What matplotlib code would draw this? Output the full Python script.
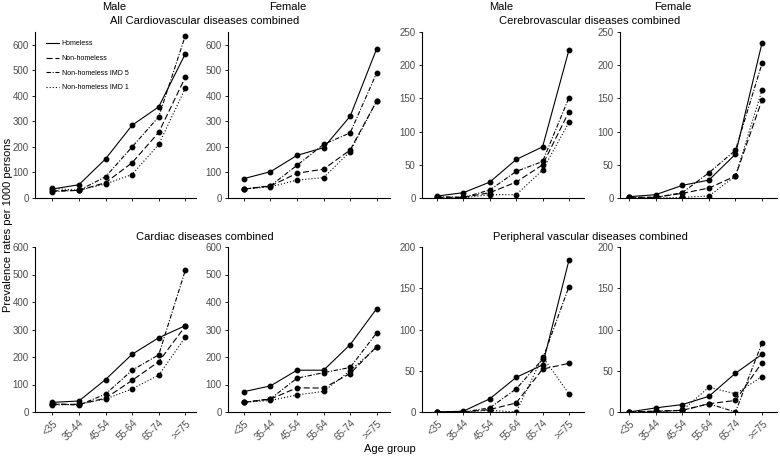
import matplotlib
matplotlib.use("Agg")
import matplotlib.pyplot as plt

plt.rcParams["font.family"] = ["Liberation Sans", "DejaVu Sans"]

ages = ["<35", "35-44", "45-54", "55-64", "65-74", ">=75"]
groups = ["Homeless", "Non-homeless", "Non-homeless IMD 5", "Non-homeless IMD 1"]

# All cardiovascular diseases combined
allcvd_male = {
    "Homeless": [35, 52, 153, 285, 357, 565],
    "Non-homeless": [28, 30, 60, 138, 257, 473],
    "Non-homeless IMD 5": [25, 30, 83, 200, 318, 636],
    "Non-homeless IMD 1": [38, 30, 55, 92, 210, 430],
}
allcvd_female = {
    "Homeless": [76, 103, 167, 197, 320, 585],
    "Non-homeless": [35, 47, 97, 113, 188, 380],
    "Non-homeless IMD 5": [35, 48, 128, 210, 255, 490],
    "Non-homeless IMD 1": [35, 44, 70, 80, 182, 380],
}
# Cerebrovascular diseases combined
cereb_male = {
    "Homeless": [3, 8, 24, 58, 77, 223],
    "Non-homeless": [1, 1, 8, 24, 50, 130],
    "Non-homeless IMD 5": [2, 1, 12, 40, 55, 151],
    "Non-homeless IMD 1": [0, 0, 5, 5, 42, 114],
}
cereb_female = {
    "Homeless": [2, 5, 19, 27, 66, 234],
    "Non-homeless": [1, 1, 7, 15, 33, 148],
    "Non-homeless IMD 5": [1, 1, 8, 38, 72, 203],
    "Non-homeless IMD 1": [0, 0, 1, 3, 33, 163],
}
# Cardiac diseases combined
cardiac_male = {
    "Homeless": [35, 40, 118, 210, 270, 314],
    "Non-homeless": [28, 28, 50, 115, 183, 312],
    "Non-homeless IMD 5": [30, 25, 65, 152, 208, 516],
    "Non-homeless IMD 1": [25, 28, 47, 84, 134, 272],
}
cardiac_female = {
    "Homeless": [74, 95, 152, 152, 245, 376],
    "Non-homeless": [35, 47, 88, 87, 140, 238],
    "Non-homeless IMD 5": [35, 48, 123, 143, 162, 288],
    "Non-homeless IMD 1": [35, 42, 62, 75, 150, 236],
}
# Peripheral vascular diseases combined
periph_male = {
    "Homeless": [0, 1, 16, 42, 57, 184],
    "Non-homeless": [0, 0, 3, 11, 52, 59],
    "Non-homeless IMD 5": [0, 0, 5, 28, 64, 152],
    "Non-homeless IMD 1": [0, 0, 2, 0, 67, 22],
}
periph_female = {
    "Homeless": [0, 5, 9, 19, 47, 70],
    "Non-homeless": [0, 1, 2, 10, 14, 60],
    "Non-homeless IMD 5": [0, 1, 2, 10, 0, 84],
    "Non-homeless IMD 1": [0, 0, 2, 30, 22, 43],
}

styles = {
    "Homeless": "-",
    "Non-homeless": (0, (5.5, 2.5)),
    "Non-homeless IMD 5": (0, (4, 1.5, 1, 1.5)),
    "Non-homeless IMD 1": (0, (1, 1.8)),
}

W, H = 780, 457
fig = plt.figure(figsize=(W / 100, H / 100), dpi=100)

# pixel boxes: (left, right, xlim) per column, (top, bottom) per row
cols = [(35, 196, (-0.65, 5.4)), (228, 390, (-0.6, 5.5)),
        (422, 584, (-0.57, 5.57)), (620, 777, (-0.34, 5.56))]
rows = [(32, 198), (247, 412)]

panels = [
    (0, 0, allcvd_male, 650, [0, 100, 200, 300, 400, 500, 600]),
    (0, 1, allcvd_female, 650, [0, 100, 200, 300, 400, 500, 600]),
    (0, 2, cereb_male, 250, [0, 50, 100, 150, 200, 250]),
    (0, 3, cereb_female, 250, [0, 50, 100, 150, 200, 250]),
    (1, 0, cardiac_male, 600, [0, 100, 200, 300, 400, 500, 600]),
    (1, 1, cardiac_female, 600, [0, 100, 200, 300, 400, 500, 600]),
    (1, 2, periph_male, 200, [0, 50, 100, 150, 200]),
    (1, 3, periph_female, 200, [0, 50, 100, 150, 200]),
]

axes = {}
for r, c, data, ymax, yticks in panels:
    left, right, xl = cols[c]
    top, bottom = rows[r]
    ax = fig.add_axes([left / W, 1 - bottom / H, (right - left) / W, (bottom - top) / H])
    for g in groups:
        ax.plot(range(len(ages)), data[g], linestyle=styles[g], color="black",
                linewidth=0.8, marker="o", markersize=3.2, label=g)
    ax.set_xlim(*xl)
    ax.set_ylim(0, ymax)
    ax.set_yticks(yticks)
    ax.set_xticks(range(len(ages)))
    if r == 1:
        ax.set_xticklabels(ages, rotation=45, ha="right", rotation_mode="anchor")
    else:
        ax.set_xticklabels([])
    for s in ["top", "right"]:
        ax.spines[s].set_visible(False)
    for s in ["left", "bottom"]:
        ax.spines[s].set_linewidth(0.8)
    ax.tick_params(labelsize=7, labelcolor="#4d4d4d", length=2.5, width=0.6, pad=2)
    axes[(r, c)] = ax

leg = axes[(0, 0)].legend(loc="upper left", frameon=False, fontsize=5,
                          handlelength=1.75, labelspacing=1.1, handletextpad=0.45,
                          borderaxespad=0.2, bbox_to_anchor=(0.045, 0.975))
for h in leg.legend_handles:
    h.set_marker("")

tf = 8
fig.text(114 / W, 1 - 7 / H, "Male", ha="center", va="center", fontsize=tf)
fig.text(288 / W, 1 - 7 / H, "Female", ha="center", va="center", fontsize=tf)
fig.text(501 / W, 1 - 7 / H, "Male", ha="center", va="center", fontsize=tf)
fig.text(673 / W, 1 - 7 / H, "Female", ha="center", va="center", fontsize=tf)
fig.text(205 / W, 1 - 21 / H, "All Cardiovascular diseases combined", ha="center", va="center", fontsize=tf)
fig.text(590 / W, 1 - 21 / H, "Cerebrovascular diseases combined", ha="center", va="center", fontsize=tf)
fig.text(205 / W, 1 - 237 / H, "Cardiac diseases combined", ha="center", va="center", fontsize=tf)
fig.text(590 / W, 1 - 237 / H, "Peripheral vascular diseases combined", ha="center", va="center", fontsize=tf)

fig.text(8 / W, 1 - 225 / H, "Prevalence rates per 1000 persons", rotation=90,
         ha="center", va="center", fontsize=tf)
fig.text(390 / W, 1 - 449 / H, "Age group", ha="center", va="center", fontsize=tf)

fig.savefig("out.png", dpi=100)
